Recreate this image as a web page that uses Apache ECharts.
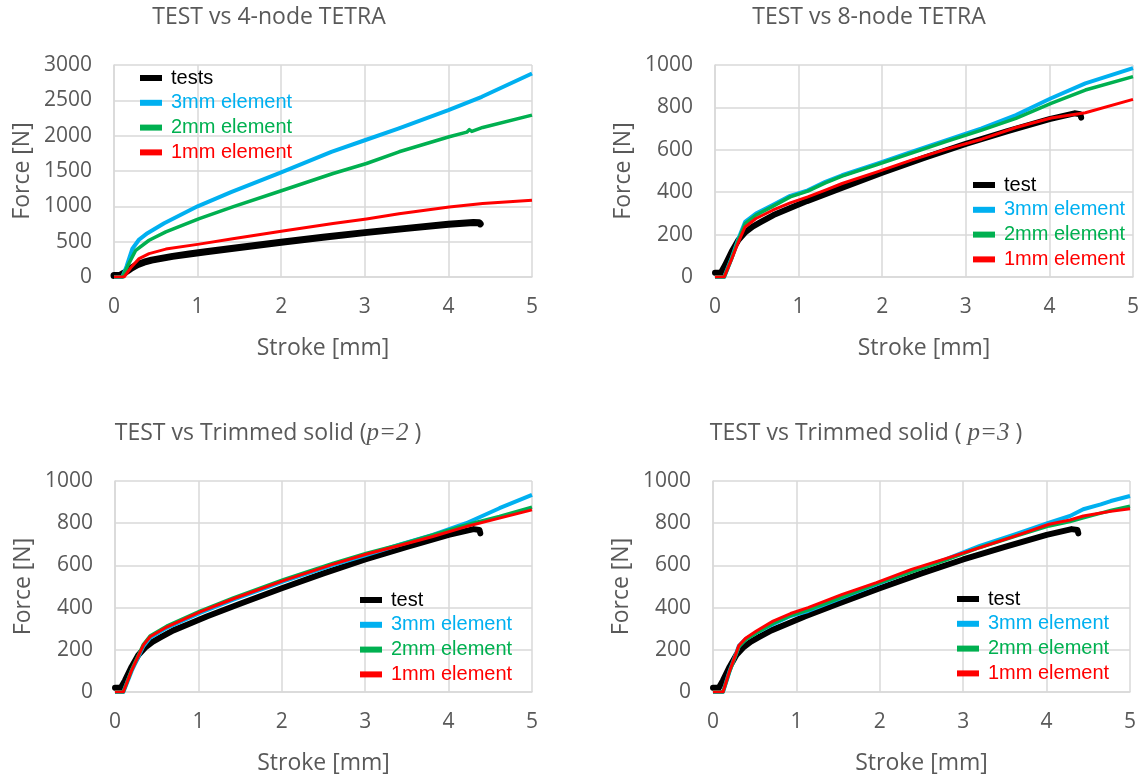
<!DOCTYPE html>
<html>
<head>
<meta charset="utf-8">
<script src="https://cdn.jsdelivr.net/npm/echarts@6/dist/echarts.min.js"></script>
<style>
html,body{margin:0;padding:0;background:#fff;}
#c{width:1142px;height:778px;}
</style>
</head>
<body>
<div id="c"></div>
<script>
// ---- Data ----
const titles = ['TEST vs 4-node TETRA', 'TEST vs 8-node TETRA', 'TEST vs Trimmed solid', 'TEST vs Trimmed solid'];
const seriesNames = ['3mm element', '2mm element', '1mm element'];
const xTicks = [0, 1, 2, 3, 4, 5];

// experimental test curve (shared by all panels)
const testX = [0, 0.07, 0.12, 0.2, 0.28, 0.36, 0.45, 0.55, 0.7, 0.9, 1.1, 1.5, 2.0, 2.5, 3.0, 3.5, 4.0, 4.3, 4.37, 4.38];
const testY = [20, 20, 55, 120, 175, 210, 238, 260, 292, 325, 358, 418, 492, 562, 628, 688, 745, 772, 768, 752];

// Panel 1: 4-node TETRA
const tet4X3 = [0, 0.1, 0.15, 0.22, 0.3, 0.4, 0.6, 1.0, 1.4, 2.0, 2.6, 3.0, 3.4, 4.0, 4.4, 5.0];
const tet4Y3 = [0, 0, 150, 400, 530, 620, 760, 1000, 1200, 1480, 1770, 1935, 2100, 2360, 2550, 2880];
const tet4X2 = [0, 0.1, 0.16, 0.26, 0.42, 0.62, 1.02, 1.42, 2.02, 2.62, 3.02, 3.41, 4.01, 4.22, 4.25, 4.28, 4.41, 5.0];
const tet4Y2 = [0, 0, 150, 378, 520, 638, 827, 992, 1228, 1465, 1606, 1772, 1984, 2050, 2085, 2060, 2116, 2291];
const tet4X1 = [0, 0.12, 0.2, 0.3, 0.42, 0.62, 1.02, 1.42, 2.02, 2.62, 3.02, 3.41, 4.01, 4.41, 5.0];
const tet4Y1 = [0, 0, 130, 260, 331, 395, 465, 540, 650, 756, 822, 895, 990, 1039, 1087];

// Panel 2: 8-node TETRA
const tet8X = [0, 0.11, 0.2, 0.28, 0.36, 0.49, 0.69, 0.9, 1.11, 1.32, 1.52, 1.94, 2.35, 2.77, 3.19, 3.6, 4.02, 4.43, 5.0];
const tet8Y3 = [0, 0, 90, 180, 260, 299, 339, 383, 409, 449, 480, 535, 590, 646, 701, 764, 843, 913, 985];
const tet8Y2 = [0, 0, 88, 175, 252, 292, 333, 378, 405, 444, 476, 530, 584, 640, 693, 748, 819, 882, 945];
const tet8Y1 = [0, 0, 85, 165, 236, 276, 315, 350, 378, 410, 441, 496, 551, 603, 650, 705, 750, 775, 838];

// Panel 3: trimmed solid p=2
const tsp2X = [0, 0.1, 0.2, 0.34, 0.42, 0.62, 1.02, 1.42, 2.02, 2.62, 3.02, 3.41, 3.81, 4.21, 4.61, 5.0];
const tsp2Y3 = [0, 0, 100, 217, 257, 304, 375, 438, 524, 603, 650, 698, 745, 800, 871, 934];
const tsp2Y2 = [0, 0, 105, 225, 265, 312, 383, 446, 532, 611, 658, 698, 745, 792, 832, 876];
const tsp2Y1 = [0, 0, 103, 222, 262, 308, 380, 442, 528, 606, 654, 694, 737, 784, 824, 863];

// Panel 4: trimmed solid p=3
const tsp3X = [0, 0.12, 0.2, 0.31, 0.39, 0.52, 0.72, 0.93, 1.14, 1.55, 1.96, 2.38, 2.79, 3.2, 3.62, 4.03, 4.28, 4.44, 4.65, 4.77, 5.0];
const tsp3Y3 = [0, 0, 100, 218, 250, 281, 321, 360, 384, 447, 510, 573, 629, 692, 747, 803, 834, 866, 889, 905, 929];
const tsp3Y2 = [0, 0, 98, 215, 247, 280, 325, 362, 388, 450, 512, 570, 625, 685, 738, 787, 808, 826, 848, 860, 881];
const tsp3Y1 = [0, 0, 100, 220, 255, 289, 336, 372, 400, 463, 518, 581, 632, 684, 739, 795, 815, 834, 848, 856, 869];

// ---- Build chart ----
const zip = (xs, ys) => xs.map((x, i) => [x, ys[i]]);
const colors = { test: '#000000', '3mm element': '#00b0f0', '2mm element': '#00b050', '1mm element': '#ff0000' };
const widths = { test: 6, '3mm element': 4, '2mm element': 3.5, '1mm element': 3 };

const panels = [
  { grid: { left: 114, top: 65, width: 418, height: 212 }, ymax: 3000, yint: 500, testName: 'tests', testW: 7,
    sims: [zip(tet4X3, tet4Y3), zip(tet4X2, tet4Y2), zip(tet4X1, tet4Y1)], legend: { left: 140, top: 66 }, titleX: 269 },
  { grid: { left: 715, top: 65, width: 418, height: 212 }, ymax: 1000, yint: 200, testName: 'test', testW: 6,
    sims: [zip(tet8X, tet8Y3), zip(tet8X, tet8Y2), zip(tet8X, tet8Y1)], legend: { left: 973, top: 173 }, titleX: 869 },
  { grid: { left: 115, top: 481, width: 417, height: 211 }, ymax: 1000, yint: 200, testName: 'test', testW: 6,
    sims: [zip(tsp2X, tsp2Y3), zip(tsp2X, tsp2Y2), zip(tsp2X, tsp2Y1)], legend: { left: 360, top: 588 }, titleX: 268 },
  { grid: { left: 713, top: 481, width: 417, height: 211 }, ymax: 1000, yint: 200, testName: 'test', testW: 6,
    sims: [zip(tsp3X, tsp3Y3), zip(tsp3X, tsp3Y2), zip(tsp3X, tsp3Y1)], legend: { left: 957, top: 587 }, titleX: 866 }
];

const FONT = 'Open Sans';
const GRAY = '#595959';
const GRIDC = '#d9d9d9';

const option = { animation: false, backgroundColor: '#fff', grid: [], xAxis: [], yAxis: [], series: [], legend: [], title: [] };

const titleTexts = [
  '{a|' + titles[0] + '}',
  '{a|' + titles[1] + '}',
  '{a|' + titles[2] + ' (}{i|p=2}{a| )}',
  '{a|' + titles[3] + ' ( }{i|p=3}{a| )}'
];

const plain = v => String(v);

panels.forEach((p, k) => {
  option.grid.push(Object.assign({ containLabel: false }, p.grid));
  option.xAxis.push({
    type: 'value', gridIndex: k, min: xTicks[0], max: xTicks[xTicks.length - 1], interval: 1,
    name: 'Stroke [mm]', nameLocation: 'middle', nameGap: 60,
    nameTextStyle: { fontFamily: FONT, fontSize: 23, color: GRAY },
    axisLine: { show: true, lineStyle: { color: GRIDC, width: 1.5 } },
    axisTick: { show: false },
    axisLabel: { fontFamily: FONT, fontSize: 21, color: GRAY, margin: 20, formatter: plain },
    splitLine: { show: true, lineStyle: { color: GRIDC, width: 1.5 } }
  });
  option.yAxis.push({
    type: 'value', gridIndex: k, min: 0, max: p.ymax, interval: p.yint,
    name: 'Force [N]', nameLocation: 'middle', nameGap: 80,
    nameTextStyle: { fontFamily: FONT, fontSize: 23, color: GRAY },
    axisLine: { show: true, lineStyle: { color: GRIDC, width: 1.5 } },
    axisTick: { show: false },
    axisLabel: { fontFamily: FONT, fontSize: 21, color: GRAY, margin: 22, formatter: plain },
    splitLine: { show: true, lineStyle: { color: GRIDC, width: 1.5 } }
  });
  option.series.push({
    type: 'line', name: p.testName, xAxisIndex: k, yAxisIndex: k, data: zip(testX, testY),
    showSymbol: false, symbol: 'none', color: colors.test,
    lineStyle: { color: colors.test, width: p.testW, cap: 'round', join: 'round' }
  });
  seriesNames.forEach((n, j) => {
    option.series.push({
      type: 'line', name: n, xAxisIndex: k, yAxisIndex: k, data: p.sims[j],
      showSymbol: false, symbol: 'none', color: colors[n],
      lineStyle: { color: colors[n], width: widths[n], join: 'round' }
    });
  });
  option.legend.push({
    orient: 'vertical', left: p.legend.left, top: p.legend.top, padding: 0, itemGap: 0.8,
    itemWidth: 22, itemHeight: 6, icon: 'rect', selectedMode: false,
    textStyle: { fontFamily: 'Liberation Sans', fontSize: 20, lineHeight: 24, padding: [0, 0, 0, 4] },
    data: [
      { name: p.testName, textStyle: { color: colors.test } },
      { name: '3mm element', textStyle: { color: colors['3mm element'] } },
      { name: '2mm element', textStyle: { color: colors['2mm element'] } },
      { name: '1mm element', textStyle: { color: colors['1mm element'] } }
    ]
  });
  option.title.push({
    text: titleTexts[k], left: p.titleX, textAlign: 'center', top: (k < 2 ? 2 : 418), padding: 0,
    textStyle: {
      lineHeight: 30, fontWeight: 'normal',
      rich: {
        a: { fontFamily: FONT, fontSize: 23, fontWeight: 'normal', color: GRAY, lineHeight: 30 },
        i: { fontFamily: 'Liberation Serif', fontStyle: 'italic', fontWeight: 'normal', fontSize: 25, color: GRAY, lineHeight: 30 }
      }
    }
  });
});

const chart = echarts.init(document.getElementById('c'), null, { renderer: 'canvas' });
chart.setOption(option);
</script>
</body>
</html>
